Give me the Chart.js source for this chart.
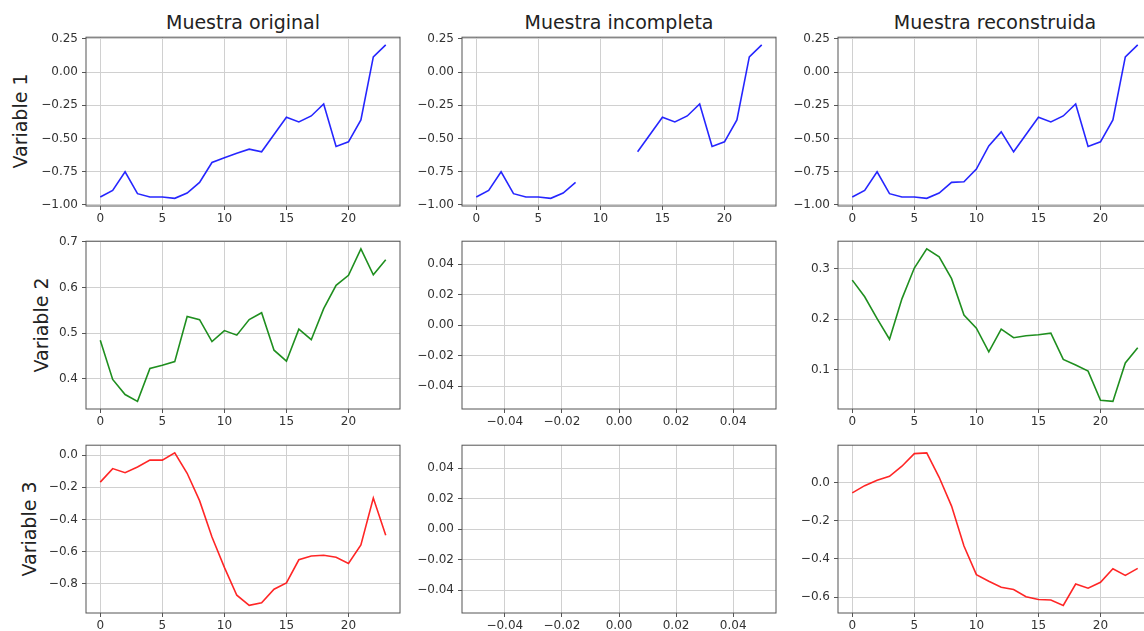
<!DOCTYPE html>
<html lang="es">
<head>
<meta charset="UTF-8">
<title>Muestra original / incompleta / reconstruida</title>
<script src="https://cdn.jsdelivr.net/npm/chart.js"></script>
<style>
    html, body {
        margin: 0;
        width: 1144px;
        height: 631px;
        overflow: hidden;
        background: #fff;
        font-family: "DejaVu Sans", sans-serif;
    }
    .panel { position: absolute; }
    .title {
        position: absolute;
        top: 11px;
        height: 22px;
        line-height: 22px;
        font-size: 19px;
        color: #222;
        text-align: center;
        white-space: nowrap;
    }
    .ylabel {
        position: absolute;
        font-size: 19px;
        line-height: 19px;
        color: #222;
        white-space: nowrap;
        transform: translate(-50%, -50%) rotate(-90deg);
    }
</style>
</head>
<body>
<script>
// time steps
const pasos = [0, 1, 2, 3, 4, 5, 6, 7, 8, 9, 10, 11, 12, 13, 14, 15, 16, 17, 18, 19, 20, 21, 22, 23];

// Variable 1
const var1Original = [-0.94, -0.89, -0.75, -0.915, -0.94, -0.94, -0.95, -0.91, -0.83, -0.68, -0.645, -0.61,
    -0.58, -0.60, -0.47, -0.34, -0.375, -0.33, -0.24, -0.56, -0.525, -0.36, 0.115, 0.205];
const var1Incompleta = [-0.94, -0.89, -0.75, -0.915, -0.94, -0.94, -0.95, -0.91, -0.83, null, null, null,
    null, -0.60, -0.47, -0.34, -0.375, -0.33, -0.24, -0.56, -0.525, -0.36, 0.115, 0.205];
const var1Reconstruida = [-0.94, -0.89, -0.75, -0.915, -0.94, -0.94, -0.95, -0.91, -0.83, -0.825, -0.73, -0.555,
    -0.45, -0.60, -0.47, -0.34, -0.375, -0.33, -0.24, -0.56, -0.525, -0.36, 0.115, 0.205];

// Variable 2 (the incomplete sample has no values at all)
const var2Original = [0.485, 0.399, 0.366, 0.351, 0.423, 0.430, 0.438, 0.537, 0.530, 0.482, 0.506, 0.496,
    0.530, 0.545, 0.463, 0.439, 0.509, 0.486, 0.554, 0.605, 0.627, 0.685, 0.628, 0.661];
const var2Incompleta = [];
const var2Reconstruida = [0.277, 0.244, 0.201, 0.160, 0.240, 0.301, 0.339, 0.323, 0.280, 0.208, 0.182, 0.135,
    0.180, 0.163, 0.167, 0.169, 0.172, 0.120, 0.109, 0.097, 0.039, 0.037, 0.113, 0.143];

// Variable 3
const var3Original = [-0.168, -0.084, -0.109, -0.074, -0.031, -0.031, 0.014, -0.113, -0.283, -0.509, -0.697, -0.870,
    -0.933, -0.917, -0.833, -0.794, -0.650, -0.626, -0.622, -0.634, -0.673, -0.558, -0.267, -0.498];
const var3Incompleta = [];
const var3Reconstruida = [-0.054, -0.016, 0.012, 0.033, 0.086, 0.152, 0.156, 0.028, -0.123, -0.332, -0.482, -0.517,
    -0.548, -0.560, -0.598, -0.612, -0.615, -0.643, -0.531, -0.553, -0.522, -0.451, -0.486, -0.449];

// tick labels
const xTicks = [0, 5, 10, 15, 20];
const emptyTicks = [-0.04, -0.02, 0.0, 0.02, 0.04];
const yTicksVar1 = [-1.0, -0.75, -0.5, -0.25, 0.0, 0.25];
const yTicksVar2Orig = [0.4, 0.5, 0.6, 0.7];
const yTicksVar2Rec = [0.1, 0.2, 0.3];
const yTicksVar3Orig = [-0.8, -0.6, -0.4, -0.2, 0.0];
const yTicksVar3Rec = [-0.6, -0.4, -0.2, 0.0];

const titulos = ["Muestra original", "Muestra incompleta", "Muestra reconstruida"];
const etiquetas = ["Variable 1", "Variable 2", "Variable 3"];

// layout (pixels)
const colLeft = [86, 462, 838];
const plotW = 314;
const rowTop = [36, 240, 444];
const plotH = [170, 169, 169];
const yLabelX = [20, 40.5, 29];
const AXW = 60, AXH = 30, PADT = 10, PADR = 10;

const azul = "rgba(0, 0, 255, 0.85)";
const verde = "rgba(0, 128, 0, 0.88)";
const rojo = "rgba(255, 0, 0, 0.85)";

const panels = [
    { row: 0, col: 0, data: var1Original, color: azul, yTicks: yTicksVar1, dec: 2 },
    { row: 0, col: 1, data: var1Incompleta, color: azul, yTicks: yTicksVar1, dec: 2 },
    { row: 0, col: 2, data: var1Reconstruida, color: azul, yTicks: yTicksVar1, dec: 2 },
    { row: 1, col: 0, data: var2Original, color: verde, yTicks: yTicksVar2Orig, dec: 1 },
    { row: 1, col: 1, data: var2Incompleta, color: verde, yTicks: emptyTicks, dec: 2 },
    { row: 1, col: 2, data: var2Reconstruida, color: verde, yTicks: yTicksVar2Rec, dec: 1 },
    { row: 2, col: 0, data: var3Original, color: rojo, yTicks: yTicksVar3Orig, dec: 1 },
    { row: 2, col: 1, data: var3Incompleta, color: rojo, yTicks: emptyTicks, dec: 2 },
    { row: 2, col: 2, data: var3Reconstruida, color: rojo, yTicks: yTicksVar3Rec, dec: 1 },
];

const fmt = (v, dec) => {
    const s = Math.abs(v) < 1e-9 ? (0).toFixed(dec) : v.toFixed(dec);
    return s.replace("-", "\u2212");
};

// matplotlib-like 5% margins
function limits(values) {
    const vals = values.filter((v) => v !== null);
    if (!vals.length) return [-0.055, 0.055];
    const lo = Math.min(...vals), hi = Math.max(...vals);
    const m = (hi - lo) * 0.05;
    return [lo - m, hi + m];
}

// draws the four spines
const frame = {
    id: "frame",
    afterDraw(chart) {
        const { ctx, chartArea: a } = chart;
        ctx.save();
        ctx.strokeStyle = "#555";
        ctx.lineWidth = 1;
        ctx.strokeRect(a.left, a.top, a.right - a.left, a.bottom - a.top);
        ctx.restore();
    },
};

const tickFont = { family: "DejaVu Sans", size: 12 };

titulos.forEach((t, c) => {
    const d = document.createElement("div");
    d.className = "title";
    d.style.left = colLeft[c] + "px";
    d.style.width = plotW + "px";
    d.textContent = t;
    document.body.appendChild(d);
});

etiquetas.forEach((t, r) => {
    const d = document.createElement("div");
    d.className = "ylabel";
    d.style.left = yLabelX[r] + "px";
    d.style.top = rowTop[r] + plotH[r] / 2 + "px";
    d.textContent = t;
    document.body.appendChild(d);
});

panels.forEach((p) => {
    const w = AXW + plotW + PADR;
    const h = PADT + plotH[p.row] + AXH;
    const div = document.createElement("div");
    div.className = "panel";
    div.style.left = colLeft[p.col] - AXW + "px";
    div.style.top = rowTop[p.row] - PADT + "px";
    const canvas = document.createElement("canvas");
    canvas.width = w;
    canvas.height = h;
    div.appendChild(canvas);
    document.body.appendChild(div);

    const empty = p.data.length === 0;
    const [ymin, ymax] = limits(p.data);
    const xl = empty ? [-0.055, 0.055] : limits(pasos.slice(0, p.data.length));
    const xt = empty ? emptyTicks : xTicks;
    const xdec = empty ? 2 : 0;

    new Chart(canvas.getContext("2d"), {
        type: "line",
        data: {
            datasets: [
                {
                    data: p.data.map((v, i) => ({ x: pasos[i], y: v })),
                    borderColor: p.color,
                    borderWidth: 1.6,
                    pointRadius: 0,
                    tension: 0,
                    spanGaps: false,
                    fill: false,
                },
            ],
        },
        options: {
            responsive: false,
            animation: false,
            layout: { padding: { top: PADT, right: PADR, left: 0, bottom: 0 } },
            plugins: { legend: { display: false }, tooltip: { enabled: false } },
            scales: {
                x: {
                    type: "linear",
                    min: xl[0],
                    max: xl[1],
                    afterBuildTicks: (s) => { s.ticks = xt.map((v) => ({ value: v })); },
                    afterFit: (s) => { s.height = AXH; },
                    ticks: {
                        font: tickFont,
                        color: "#333",
                        padding: 2,
                        maxRotation: 0,
                        autoSkip: false,
                        callback: (v) => fmt(v, xdec),
                    },
                    grid: { color: "#d0d0d0", tickColor: "#555", tickLength: 4, lineWidth: 1 },
                    border: { display: false },
                },
                y: {
                    type: "linear",
                    min: ymin,
                    max: ymax,
                    afterBuildTicks: (s) => { s.ticks = p.yTicks.map((v) => ({ value: v })); },
                    afterFit: (s) => { s.width = AXW; },
                    ticks: {
                        font: tickFont,
                        color: "#333",
                        padding: 4,
                        autoSkip: false,
                        callback: (v) => fmt(v, p.dec),
                    },
                    grid: { color: "#d0d0d0", tickColor: "#555", tickLength: 4, lineWidth: 1 },
                    border: { display: false },
                },
            },
        },
        plugins: [frame],
    });
});
</script>
</body>
</html>
